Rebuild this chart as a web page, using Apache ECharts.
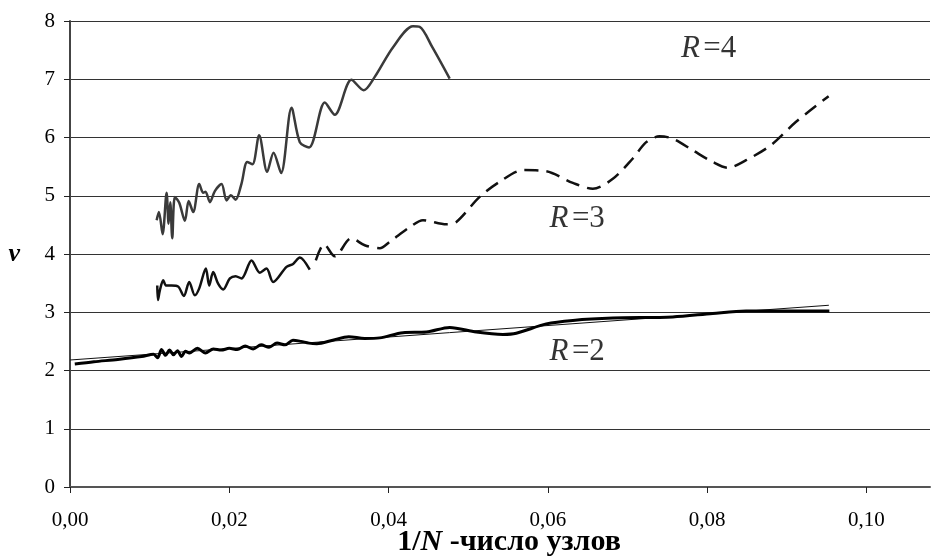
<!DOCTYPE html>
<html>
<head>
<meta charset="utf-8">
<script src="https://cdn.jsdelivr.net/npm/echarts@6/dist/echarts.min.js"></script>
<style>
  html, body { margin: 0; padding: 0; background: #fff; }
  #chart { width: 933px; height: 559px; }
</style>
</head>
<body>
<div id="chart"></div>
<script>
// x ticks
const xTicks = [0, 0.02, 0.04, 0.06, 0.08, 0.10];

// R = 4
const r4X = [0.01088, 0.01117, 0.01163, 0.01213, 0.01238, 0.01259, 0.01284, 0.01317, 0.01372, 0.01443,
  0.0149, 0.01547, 0.01623, 0.01673, 0.01702, 0.01757, 0.01819, 0.01903, 0.01966, 0.0202,
  0.02079, 0.02154, 0.02225, 0.02292, 0.02375, 0.02476, 0.02556, 0.02651, 0.02782, 0.02886,
  0.03003, 0.032, 0.03325, 0.03534, 0.03689, 0.03827, 0.04057, 0.04307, 0.04391, 0.0455, 0.04768];
const r4Y = [4.58, 4.72, 4.34, 5.05, 4.52, 4.89, 4.27, 4.98, 4.88, 4.57,
  4.91, 4.72, 5.20, 5.05, 5.07, 4.89, 5.08, 5.20, 4.92, 5.01,
  4.93, 5.21, 5.58, 5.54, 6.04, 5.41, 5.74, 5.39, 6.51, 5.92,
  5.83, 6.60, 6.39, 6.99, 6.81, 7.04, 7.55, 7.91, 7.90, 7.55, 7.01];

// R = 3, first (solid) part
const r3aX = [0.01096, 0.01105, 0.01129, 0.01171, 0.01205, 0.01276, 0.01359, 0.0143, 0.01497, 0.01568,
  0.01623, 0.01706, 0.01748, 0.01798, 0.0186, 0.01924, 0.02008, 0.0208, 0.02154, 0.0228,
  0.02384, 0.02468, 0.02551, 0.02719, 0.02802, 0.02886, 0.03011];
const r3aY = [3.46, 3.21, 3.38, 3.55, 3.46, 3.46, 3.44, 3.28, 3.52, 3.29,
  3.41, 3.75, 3.46, 3.69, 3.49, 3.39, 3.58, 3.62, 3.58, 3.89,
  3.68, 3.75, 3.52, 3.78, 3.83, 3.94, 3.73];

// R = 3, dashed part
const r3bX = [0.03087, 0.03191, 0.03325, 0.03534, 0.03701, 0.0389, 0.04015, 0.04266, 0.04433, 0.04726,
  0.04852, 0.05144, 0.05395, 0.05688, 0.05981, 0.06315, 0.06566, 0.06817, 0.07068, 0.07236,
  0.07403, 0.0757, 0.07821, 0.08072, 0.0826, 0.0849, 0.08804, 0.09118, 0.09527];
const r3bY = [3.89, 4.17, 3.96, 4.27, 4.15, 4.10, 4.21, 4.46, 4.58, 4.51,
  4.55, 4.98, 5.24, 5.44, 5.42, 5.22, 5.12, 5.29, 5.64, 5.92,
  6.02, 5.98, 5.78, 5.58, 5.48, 5.61, 5.87, 6.27, 6.71];

// R = 2
const r2X = [0.0006, 0.003, 0.006, 0.009, 0.0105, 0.011, 0.0115, 0.012, 0.0125, 0.013,
  0.0135, 0.014, 0.0145, 0.015, 0.016, 0.017, 0.018, 0.019, 0.02, 0.021,
  0.022, 0.023, 0.024, 0.025, 0.026, 0.027, 0.028, 0.029, 0.030, 0.031,
  0.033, 0.035, 0.037, 0.0389, 0.04182, 0.04475, 0.04768, 0.05102, 0.05437, 0.05604,
  0.05981, 0.06315, 0.06817, 0.0757, 0.08072, 0.0849, 0.09536];
const r2Y = [2.11, 2.15, 2.19, 2.24, 2.28, 2.22, 2.36, 2.26, 2.35, 2.27,
  2.34, 2.24, 2.33, 2.30, 2.38, 2.30, 2.37, 2.35, 2.38, 2.36,
  2.42, 2.37, 2.44, 2.40, 2.47, 2.44, 2.52, 2.50, 2.47, 2.46,
  2.52, 2.58, 2.55, 2.56, 2.65, 2.66, 2.74, 2.66, 2.62, 2.64,
  2.80, 2.86, 2.90, 2.92, 2.98, 3.02, 3.02];

// linear trend for R = 2
const trendX = [0, 0.0953];
const trendY = [2.18, 3.12];

// curve labels
const labelX = [0.0802, 0.0637, 0.0637];
const labelY = [7.53, 4.61, 2.32];
const labelR = ['4', '3', '2'];

const zip = (xs, ys) => xs.map((x, i) => [x, ys[i]]);

const chart = echarts.init(document.getElementById('chart'));
const serif = 'Liberation Serif, Times New Roman, serif';

const option = {
  animation: false,
  backgroundColor: '#fff',
  grid: { left: 70, right: 3, top: 21, bottom: 72, outerBoundsMode: 'none', containLabel: false },
  xAxis: {
    type: 'value',
    min: 0,
    max: 0.108,
    interval: 0.02,
    name: '{a|1/}{b|N}{a| -число узлов}',
    nameLocation: 'middle',
    nameGap: 40,
    nameMoveOverlap: false,
    nameTextStyle: {
      padding: [0, 0, 0, 18],
      rich: {
        a: { fontFamily: serif, fontSize: 30, fontWeight: 'bold', color: '#000' },
        b: { fontFamily: serif, fontSize: 30, fontWeight: 'bold', fontStyle: 'italic', color: '#000' }
      }
    },
    axisLine: { lineStyle: { color: '#555', width: 2 } },
    axisTick: { show: true, inside: false, length: 6, customValues: xTicks, lineStyle: { color: '#222' } },
    axisLabel: {
      customValues: xTicks,
      margin: 23,
      fontFamily: serif,
      fontSize: 21,
      color: '#000',
      formatter: v => v.toFixed(2).replace('.', ',')
    },
    splitLine: { show: false }
  },
  yAxis: {
    type: 'value',
    min: 0,
    max: 8,
    interval: 1,
    name: 'v',
    nameLocation: 'middle',
    nameRotate: 0,
    nameGap: 50,
    nameMoveOverlap: false,
    nameTextStyle: { fontFamily: serif, fontSize: 26, fontWeight: 'bold', fontStyle: 'italic', color: '#000' },
    axisLine: { show: true, lineStyle: { color: '#444', width: 2 } },
    axisTick: { show: true, length: 6, lineStyle: { color: '#222' } },
    axisLabel: { margin: 15, fontFamily: serif, fontSize: 21, color: '#000' },
    splitLine: { lineStyle: { color: '#333', width: 1 } }
  },
  series: [
    {
      name: 'trend',
      type: 'line',
      data: zip(trendX, trendY),
      showSymbol: false,
      lineStyle: { color: '#111', width: 1 },
      z: 3
    },
    {
      name: 'R=2',
      type: 'line',
      data: zip(r2X, r2Y),
      showSymbol: false,
      smooth: 0.3,
      lineStyle: { color: '#000', width: 3 },
      z: 4
    },
    {
      name: 'R=3a',
      type: 'line',
      data: zip(r3aX, r3aY),
      showSymbol: false,
      smooth: 0.3,
      lineStyle: { color: '#111', width: 2.5 }
    },
    {
      name: 'R=3b',
      type: 'line',
      data: zip(r3bX, r3bY),
      showSymbol: false,
      smooth: 0.3,
      lineStyle: { color: '#111', width: 2.5, type: [14, 8] }
    },
    {
      name: 'R=4',
      type: 'line',
      data: zip(r4X, r4Y),
      showSymbol: false,
      smooth: 0.3,
      lineStyle: { color: '#3a3a3a', width: 2.5 }
    },
    {
      name: 'labels',
      type: 'scatter',
      symbolSize: 0,
      data: labelX.map((x, i) => ({ value: [x, labelY[i]], r: labelR[i] })),
      label: {
        show: true,
        position: 'inside',
        formatter: p => '{i|R} {n|=' + p.data.r + '}',
        rich: {
          i: { fontFamily: serif, fontSize: 31, fontStyle: 'italic', color: '#000' },
          n: { fontFamily: serif, fontSize: 31, color: '#000' }
        }
      },
      silent: true
    }
  ]
};

chart.setOption(option);
</script>
</body>
</html>
